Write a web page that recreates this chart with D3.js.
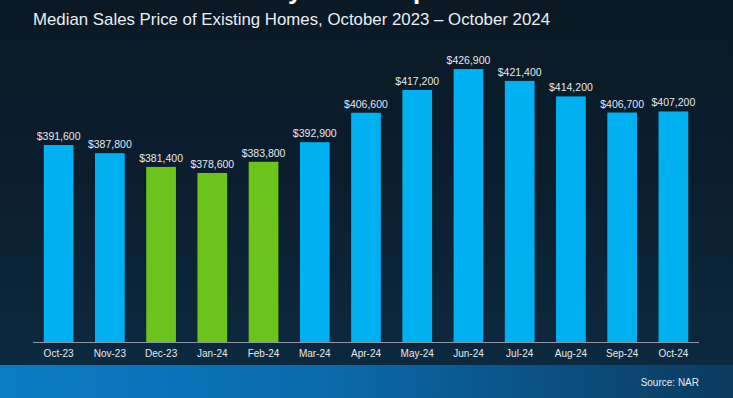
<!DOCTYPE html>
<html>
<head>
<meta charset="utf-8">
<script src="https://cdn.jsdelivr.net/npm/d3@7"></script>
<style>
html,body{margin:0;padding:0;background:#0b1b27;overflow:hidden;}
svg{display:block;}
text{font-family:"Liberation Sans", Arial, sans-serif;}
</style>
</head>
<body>
<svg id="chart" width="733" height="398"></svg>
<script>
const categories = ["Oct-23","Nov-23","Dec-23","Jan-24","Feb-24","Mar-24","Apr-24","May-24","Jun-24","Jul-24","Aug-24","Sep-24","Oct-24"];
const values = [391600,387800,381400,378600,383800,392900,406600,417200,426900,421400,414200,406700,407200];
const highlighted = ["Dec-23","Jan-24","Feb-24"];
const yDomain = [300000, 450000];
const titleText = "Median Sales Price of Existing Homes, October 2023 \u2013 October 2024";
const sourceText = "Source: NAR";

const W = 733, H = 398;
const svg = d3.select("#chart");
const defs = svg.append("defs");

const bg = defs.append("linearGradient").attr("id","bg").attr("x1",0).attr("y1",0).attr("x2",0).attr("y2",1);
bg.append("stop").attr("offset","0%").attr("stop-color","#0a1924");
bg.append("stop").attr("offset","45%").attr("stop-color","#0b1e2e");
bg.append("stop").attr("offset","100%").attr("stop-color","#0d2b42");

const band = defs.append("linearGradient").attr("id","band").attr("x1",0).attr("y1",0).attr("x2",1).attr("y2",0);
band.append("stop").attr("offset","0%").attr("stop-color","#0a7cc6");
band.append("stop").attr("offset","45%").attr("stop-color","#0a6aab");
band.append("stop").attr("offset","100%").attr("stop-color","#0b3a5f");

svg.append("rect").attr("width",W).attr("height",H).attr("fill","url(#bg)");
svg.append("rect").attr("x",0).attr("y",365).attr("width",W).attr("height",H-365).attr("fill","url(#band)");

// fragments of the cut-off heading above the frame
svg.append("text").attr("x",288).attr("y",-1).attr("fill","#ffffff")
  .attr("font-weight","bold").attr("font-size",26).text("y");
svg.append("text").attr("x",413).attr("y",-1).attr("fill","#ffffff")
  .attr("font-weight","bold").attr("font-size",26).text("p");

svg.append("text").attr("x",33).attr("y",25).attr("fill","#e8eef2")
  .attr("font-size",17).attr("textLength",517).attr("lengthAdjust","spacingAndGlyphs")
  .text(titleText);

const x = d3.scaleBand().domain(categories).range([33,699]).paddingInner(0.42).paddingOuter(0.21);
const y = d3.scaleLinear().domain(yDomain).range([342, 19.4]);

const g = svg.append("g");
g.selectAll("rect.bar").data(categories).join("rect")
  .attr("class","bar")
  .attr("x", d => x(d))
  .attr("width", x.bandwidth())
  .attr("y", (d,i) => y(values[i]))
  .attr("height", (d,i) => y(yDomain[0]) - y(values[i]))
  .attr("fill", d => highlighted.includes(d) ? "#6cc31b" : "#00b0f0");

g.selectAll("text.val").data(categories).join("text")
  .attr("class","val")
  .attr("x", d => x(d) + x.bandwidth()/2)
  .attr("y", (d,i) => y(values[i]) - 5)
  .attr("text-anchor","middle")
  .attr("font-size",10.5)
  .attr("fill","#e4e8ec")
  .text((d,i) => "$" + d3.format(",")(values[i]));

const axis = d3.axisBottom(x).tickSize(0).tickPadding(8);
const ax = svg.append("g").attr("transform","translate(0,342)").call(axis);
ax.select(".domain").attr("stroke","#8c9aa6").attr("stroke-width",1).attr("d","M33,0.5H699");
ax.selectAll(".tick text").attr("fill","#e4e8ec").attr("font-size",10)
  .attr("font-family","Liberation Sans, Arial, sans-serif");

svg.append("text").attr("x",699).attr("y",386).attr("text-anchor","end")
  .attr("fill","#e4ecf2").attr("font-size",10).text(sourceText);
</script>
</body>
</html>
